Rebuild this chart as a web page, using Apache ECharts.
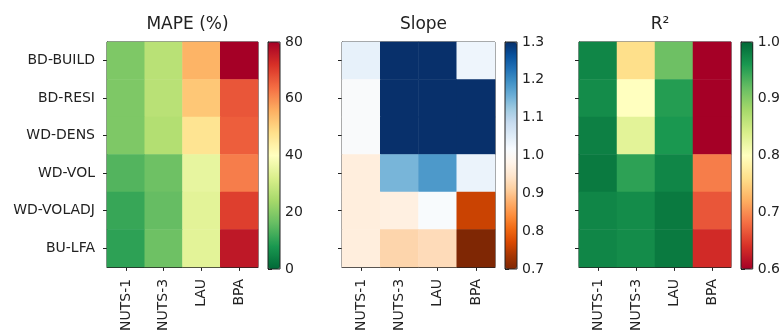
<!DOCTYPE html>
<html>
<head>
<meta charset="utf-8">
<script src="https://cdn.jsdelivr.net/npm/echarts@6/dist/echarts.min.js"></script>
<style>
  html, body { margin: 0; padding: 0; background: #fff; }
  #chart { width: 783px; height: 334px; }
</style>
</head>
<body>
<div id="chart"></div>
<script>
const rows = ['BD-BUILD', 'BD-RESI', 'WD-DENS', 'WD-VOL', 'WD-VOLADJ', 'BU-LFA']
const cols = ['NUTS-1', 'NUTS-3', 'LAU', 'BPA']

const mape = [
  [19, 27, 55, 80],
  [19, 27, 52, 67],
  [19, 26, 47, 66],
  [14, 17, 35, 62],
  [11, 16, 34, 70],
  [10, 17, 34, 76],
]
const slope = [
  [1.04, 1.3, 1.3, 1.03],
  [1.01, 1.3, 1.3, 1.3],
  [1.01, 1.3, 1.3, 1.3],
  [0.965, 1.15, 1.185, 1.035],
  [0.965, 0.97, 1.015, 0.76],
  [0.965, 0.92, 0.93, 0.7],
]
const r2 = [
  [0.975, 0.76, 0.915, 0.6],
  [0.97, 0.8, 0.955, 0.6],
  [0.98, 0.83, 0.96, 0.6],
  [0.985, 0.95, 0.975, 0.69],
  [0.975, 0.97, 0.985, 0.665],
  [0.975, 0.97, 0.985, 0.635],
]

// colorbar ranges: [min, max, step]
const mapeTicks = [0, 80, 20]
const slopeTicks = [0.7, 1.3, 0.1]
const r2Ticks = [0.6, 1.0, 0.1]

const titles = ['MAPE (%)', 'Slope', 'R\u00b2']

const rdYlGn = ['#a50026', '#d73027', '#f46d43', '#fdae61', '#fee08b', '#ffffbf',
  '#d9ef8b', '#a6d96a', '#66bd63', '#1a9850', '#006837']
const orangesBlues = ['#7f2704', '#a63603', '#d94801', '#f16913', '#fd8d3c', '#fdae6b',
  '#fdd0a2', '#fee6ce', '#fff5eb', '#f7fbff', '#deebf7', '#c6dbef', '#9ecae1',
  '#6baed6', '#4292c6', '#2171b5', '#08519c', '#08306b']

const panels = [
  { data: mape, ticks: mapeTicks, colors: rdYlGn.slice().reverse(), left: 107, width: 151, cbLeft: 268, digits: 0, labels: true },
  { data: slope, ticks: slopeTicks, colors: orangesBlues, left: 342, width: 153, cbLeft: 505, digits: 1, labels: false },
  { data: r2, ticks: r2Ticks, colors: rdYlGn, left: 579, width: 152, cbLeft: 741, digits: 1, labels: false },
]

const plotTop = 42
const plotHeight = 227
const cbWidth = 12
const ink = '#222'
const font = 'DejaVu Sans'
const line = { show: true, lineStyle: { color: ink, width: 1 } }
const tick = { show: true, alignWithLabel: true, length: 4, lineStyle: { color: ink, width: 1 } }

const grid = []
const xAxis = []
const yAxis = []
const series = []
const visualMap = []
const title = []

panels.forEach((p, i) => {
  grid.push({ left: p.left, top: plotTop, width: p.width, height: plotHeight, show: true, borderColor: ink, borderWidth: 1, backgroundColor: 'transparent' })
  grid.push({ left: p.cbLeft, top: plotTop, width: cbWidth, height: plotHeight, show: true, borderColor: ink, borderWidth: 1, backgroundColor: 'transparent', z: 10 })

  xAxis.push({
    type: 'category', gridIndex: 2 * i, data: cols,
    axisLine: line, axisTick: tick,
    axisLabel: { rotate: 90, margin: 12, color: ink, fontSize: 14, fontFamily: font },
    splitLine: { show: false },
  })
  yAxis.push({
    type: 'category', gridIndex: 2 * i, data: rows, inverse: true,
    axisLine: line, axisTick: tick,
    axisLabel: { show: p.labels, margin: 12, color: ink, fontSize: 14, fontFamily: font },
    splitLine: { show: false },
  })
  xAxis.push({ type: 'value', gridIndex: 2 * i + 1, show: false, min: 0, max: 1 })
  yAxis.push({
    type: 'value', gridIndex: 2 * i + 1, position: 'right',
    min: p.ticks[0], max: p.ticks[1], interval: p.ticks[2],
    axisLine: line,
    axisTick: { show: true, length: 4, lineStyle: { color: ink, width: 1 } },
    axisLabel: { margin: 5, color: ink, fontSize: 14, fontFamily: font, formatter: (v) => v.toFixed(p.digits) },
    splitLine: { show: false },
  })

  const cells = []
  p.data.forEach((r, yi) => r.forEach((v, xi) => cells.push([xi, yi, v])))
  series.push({
    type: 'heatmap', xAxisIndex: 2 * i, yAxisIndex: 2 * i, data: cells,
    emphasis: { disabled: true }, itemStyle: { borderWidth: 0 },
  })

  visualMap.push({
    type: 'continuous', seriesIndex: i,
    min: p.ticks[0], max: p.ticks[1],
    inRange: { color: p.colors },
    show: true, calculable: false, hoverLink: false,
    orient: 'vertical', left: p.cbLeft, top: plotTop,
    itemWidth: cbWidth, itemHeight: plotHeight, padding: 0,
    text: null, showLabel: false, handleSize: 0, indicatorSize: 0,
    handleStyle: { opacity: 0 }, indicatorStyle: { opacity: 0 },
    textStyle: { color: 'transparent' },
  })

  title.push({
    text: titles[i], left: p.left + p.width / 2, top: 11, textAlign: 'center',
    textStyle: { color: ink, fontSize: 17, fontWeight: 'normal', fontFamily: font },
  })
})

const chart = echarts.init(document.getElementById('chart'))
chart.setOption({
  animation: false,
  backgroundColor: '#fff',
  title, grid, xAxis, yAxis, series, visualMap,
})
</script>
</body>
</html>
